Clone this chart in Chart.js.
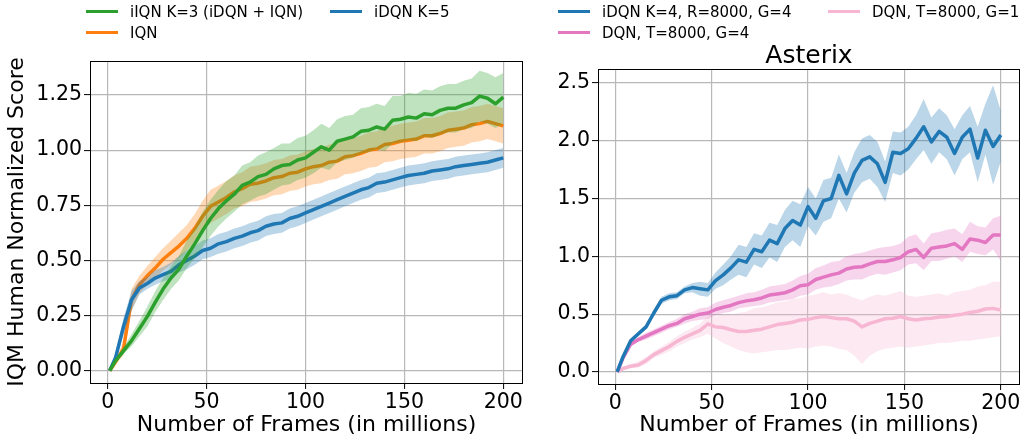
<!DOCTYPE html>
<html>
<head>
<meta charset="utf-8">
<script src="https://cdn.jsdelivr.net/npm/chart.js@4.4.0/dist/chart.umd.min.js"></script>
<style>
  body { margin: 0; background: #fff; width: 1024px; height: 440px; position: relative; overflow: hidden; font-family: 'DejaVu Sans', sans-serif; }
  canvas { position: absolute; top: 0; }
  .item { position: absolute; white-space: nowrap; font-size: 15px; line-height: 18px; color: #000; z-index: 2; }
  .swatch { display: inline-block; width: 32px; height: 3px; vertical-align: middle; margin-right: 12px; position: relative; top: -1px; }
</style>
</head>
<body>
<canvas id="leftChart" width="530" height="440" style="left:0"></canvas>
<canvas id="rightChart" width="494" height="440" style="left:530px"></canvas>
<script>
// frames (in millions), shared by every curve
const frames = [1, 4, 8, 12, 16, 20, 24, 28, 32, 36, 40, 44, 48, 52, 56, 60, 64, 68, 72, 76, 80, 84, 88, 92, 96, 100,
  104, 108, 112, 116, 120, 124, 128, 132, 136, 140, 144, 148, 152, 156, 160, 164, 168, 172, 176, 180, 184, 188, 192, 196, 200];

const xTicks = [0, 50, 100, 150, 200];
const xTickLabels = ['0', '50', '100', '150', '200'];
const leftYTicks = [0, 0.25, 0.5, 0.75, 1.0, 1.25];
const leftYTickLabels = ['0.00', '0.25', '0.50', '0.75', '1.00', '1.25'];
const rightYTicks = [0, 0.5, 1.0, 1.5, 2.0, 2.5];
const rightYTickLabels = ['0.0', '0.5', '1.0', '1.5', '2.0', '2.5'];

// left panel: IQM human normalized score
const leftNames = ['iIQN K=3 (iDQN + IQN)', 'IQN', 'iDQN K=5'];
const leftColors = ['#2ca02c', '#ff7f0e', '#1f77b4'];

const iiqnMean = [0.00, 0.045, 0.09, 0.135, 0.19, 0.245, 0.31, 0.37, 0.42, 0.46, 0.52, 0.575, 0.635, 0.69, 0.735, 0.77, 0.80, 0.84, 0.855, 0.88,
  0.89, 0.915, 0.93, 0.935, 0.955, 0.965, 0.99, 1.015, 1.00, 1.04, 1.05, 1.06, 1.085, 1.09, 1.105, 1.095, 1.135, 1.14, 1.15, 1.145,
  1.165, 1.16, 1.18, 1.19, 1.19, 1.205, 1.215, 1.245, 1.235, 1.21, 1.24];
const iiqnLow = [0.00, 0.035, 0.075, 0.11, 0.155, 0.20, 0.265, 0.32, 0.37, 0.41, 0.465, 0.51, 0.56, 0.61, 0.655, 0.69, 0.72, 0.755, 0.77, 0.79,
  0.80, 0.82, 0.84, 0.845, 0.865, 0.875, 0.895, 0.92, 0.91, 0.945, 0.955, 0.965, 0.985, 0.99, 1.005, 0.995, 1.03, 1.035, 1.045, 1.04,
  1.06, 1.055, 1.07, 1.08, 1.08, 1.095, 1.10, 1.13, 1.12, 1.10, 1.12];
const iiqnHigh = [0.00, 0.055, 0.105, 0.165, 0.225, 0.29, 0.36, 0.42, 0.475, 0.52, 0.59, 0.65, 0.72, 0.775, 0.82, 0.86, 0.885, 0.93, 0.945, 0.975,
  0.99, 1.01, 1.03, 1.03, 1.055, 1.065, 1.09, 1.12, 1.10, 1.14, 1.155, 1.16, 1.19, 1.195, 1.21, 1.20, 1.245, 1.245, 1.26, 1.255,
  1.275, 1.27, 1.29, 1.30, 1.30, 1.315, 1.325, 1.36, 1.35, 1.33, 1.35];

const iqnMean = [0.00, 0.04, 0.10, 0.32, 0.39, 0.43, 0.465, 0.505, 0.535, 0.565, 0.60, 0.645, 0.70, 0.745, 0.765, 0.785, 0.81, 0.825, 0.845, 0.85,
  0.86, 0.875, 0.88, 0.895, 0.90, 0.915, 0.925, 0.93, 0.945, 0.95, 0.97, 0.975, 0.985, 1.00, 1.005, 1.025, 1.03, 1.04, 1.045, 1.05,
  1.065, 1.065, 1.075, 1.09, 1.095, 1.10, 1.115, 1.12, 1.13, 1.12, 1.11];
const iqnLow = [0.00, 0.03, 0.07, 0.27, 0.35, 0.39, 0.42, 0.455, 0.48, 0.51, 0.545, 0.585, 0.635, 0.67, 0.69, 0.71, 0.735, 0.745, 0.765, 0.77,
  0.78, 0.795, 0.80, 0.815, 0.82, 0.835, 0.845, 0.85, 0.865, 0.87, 0.89, 0.895, 0.905, 0.92, 0.925, 0.945, 0.95, 0.96, 0.965, 0.97,
  0.985, 0.985, 0.995, 1.01, 1.015, 1.02, 1.035, 1.04, 1.05, 1.04, 1.03];
const iqnHigh = [0.00, 0.05, 0.13, 0.37, 0.43, 0.475, 0.515, 0.555, 0.59, 0.625, 0.66, 0.71, 0.77, 0.82, 0.84, 0.86, 0.885, 0.90, 0.925, 0.93,
  0.94, 0.955, 0.96, 0.975, 0.98, 0.995, 1.005, 1.01, 1.025, 1.03, 1.05, 1.055, 1.065, 1.08, 1.085, 1.105, 1.11, 1.12, 1.125, 1.13,
  1.145, 1.145, 1.155, 1.17, 1.175, 1.18, 1.195, 1.20, 1.21, 1.20, 1.19];

const idqn5Mean = [0.00, 0.06, 0.20, 0.32, 0.375, 0.395, 0.42, 0.435, 0.45, 0.48, 0.50, 0.52, 0.545, 0.555, 0.575, 0.585, 0.60, 0.61, 0.625, 0.635,
  0.655, 0.665, 0.67, 0.69, 0.70, 0.715, 0.73, 0.745, 0.76, 0.775, 0.79, 0.805, 0.82, 0.83, 0.85, 0.855, 0.865, 0.875, 0.885, 0.89,
  0.895, 0.905, 0.91, 0.915, 0.925, 0.93, 0.935, 0.94, 0.945, 0.955, 0.965];
const idqn5Low = [0.00, 0.04, 0.16, 0.27, 0.345, 0.37, 0.39, 0.405, 0.415, 0.445, 0.46, 0.48, 0.505, 0.515, 0.53, 0.54, 0.555, 0.565, 0.58, 0.59,
  0.61, 0.62, 0.625, 0.645, 0.655, 0.67, 0.685, 0.70, 0.715, 0.73, 0.745, 0.76, 0.775, 0.785, 0.805, 0.81, 0.82, 0.83, 0.84, 0.845,
  0.85, 0.86, 0.865, 0.87, 0.88, 0.885, 0.89, 0.895, 0.90, 0.91, 0.92];
const idqn5High = [0.00, 0.08, 0.24, 0.36, 0.405, 0.425, 0.455, 0.47, 0.49, 0.52, 0.545, 0.565, 0.59, 0.60, 0.62, 0.63, 0.645, 0.655, 0.67, 0.68,
  0.70, 0.71, 0.715, 0.735, 0.745, 0.76, 0.775, 0.79, 0.805, 0.82, 0.835, 0.85, 0.865, 0.875, 0.895, 0.90, 0.91, 0.92, 0.93, 0.935,
  0.94, 0.95, 0.955, 0.96, 0.97, 0.975, 0.98, 0.985, 0.99, 1.00, 1.01];

// right panel: Asterix
const rightNames = ['iDQN K=4, R=8000, G=4', 'DQN, T=8000, G=4', 'DQN, T=8000, G=1'];
const rightColors = ['#1f77b4', '#e377c2', '#f7b6d2'];

const idqn4Mean = [0.00, 0.13, 0.27, 0.33, 0.39, 0.51, 0.62, 0.65, 0.66, 0.71, 0.73, 0.72, 0.71, 0.79, 0.84, 0.90, 0.97, 0.95, 1.06, 1.04,
  1.14, 1.11, 1.24, 1.31, 1.27, 1.43, 1.33, 1.48, 1.50, 1.70, 1.54, 1.72, 1.83, 1.86, 1.80, 1.64, 1.90, 1.89, 1.93, 2.02,
  2.12, 1.99, 2.08, 2.03, 1.89, 2.03, 2.10, 1.85, 2.09, 1.95, 2.05];
const idqn4Low = [0.00, 0.11, 0.25, 0.31, 0.37, 0.48, 0.59, 0.62, 0.63, 0.68, 0.69, 0.66, 0.65, 0.72, 0.75, 0.80, 0.84, 0.82, 0.93, 0.90,
  0.99, 0.95, 1.08, 1.14, 1.08, 1.26, 1.18, 1.30, 1.33, 1.50, 1.38, 1.55, 1.64, 1.67, 1.60, 1.47, 1.72, 1.70, 1.75, 1.84,
  1.92, 1.80, 1.90, 1.84, 1.70, 1.84, 1.90, 1.64, 1.88, 1.62, 1.82];
const idqn4High = [0.00, 0.15, 0.29, 0.35, 0.41, 0.54, 0.65, 0.68, 0.69, 0.74, 0.77, 0.78, 0.77, 0.86, 0.93, 1.00, 1.10, 1.08, 1.20, 1.18,
  1.29, 1.27, 1.40, 1.48, 1.45, 1.60, 1.50, 1.66, 1.68, 1.88, 1.72, 1.90, 2.02, 2.05, 1.99, 1.82, 2.08, 2.07, 2.12, 2.22,
  2.36, 2.20, 2.28, 2.22, 2.10, 2.22, 2.30, 2.12, 2.32, 2.48, 2.26];

const dqnG4Mean = [0.00, 0.12, 0.24, 0.28, 0.31, 0.34, 0.37, 0.40, 0.42, 0.46, 0.48, 0.50, 0.51, 0.54, 0.56, 0.575, 0.60, 0.615, 0.625, 0.64,
  0.665, 0.675, 0.685, 0.71, 0.745, 0.755, 0.80, 0.82, 0.84, 0.855, 0.89, 0.905, 0.91, 0.935, 0.955, 0.955, 0.97, 0.99, 1.04, 1.06,
  0.99, 1.07, 1.08, 1.09, 1.11, 1.06, 1.15, 1.14, 1.12, 1.185, 1.185];
const dqnG4Low = [0.00, 0.10, 0.22, 0.26, 0.28, 0.31, 0.34, 0.37, 0.39, 0.42, 0.44, 0.45, 0.46, 0.49, 0.51, 0.52, 0.55, 0.56, 0.57, 0.58,
  0.60, 0.61, 0.62, 0.63, 0.66, 0.67, 0.71, 0.73, 0.74, 0.76, 0.79, 0.80, 0.80, 0.83, 0.85, 0.84, 0.86, 0.88, 0.93, 0.94,
  0.88, 0.96, 0.96, 0.98, 1.00, 0.95, 1.04, 1.02, 1.01, 1.06, 0.96];
const dqnG4High = [0.00, 0.14, 0.26, 0.30, 0.34, 0.37, 0.40, 0.43, 0.46, 0.50, 0.52, 0.55, 0.56, 0.60, 0.62, 0.64, 0.66, 0.68, 0.69, 0.71,
  0.74, 0.75, 0.76, 0.79, 0.83, 0.85, 0.90, 0.92, 0.95, 0.96, 1.00, 1.02, 1.03, 1.05, 1.07, 1.08, 1.09, 1.11, 1.17, 1.19,
  1.11, 1.20, 1.21, 1.23, 1.24, 1.19, 1.30, 1.26, 1.25, 1.33, 1.35];

const dqnG1Mean = [0.00, 0.03, 0.05, 0.06, 0.10, 0.15, 0.185, 0.22, 0.265, 0.30, 0.33, 0.36, 0.415, 0.39, 0.385, 0.365, 0.35, 0.35, 0.36, 0.37,
  0.39, 0.41, 0.42, 0.43, 0.45, 0.455, 0.47, 0.48, 0.47, 0.46, 0.46, 0.44, 0.39, 0.42, 0.44, 0.46, 0.465, 0.48, 0.46, 0.45,
  0.46, 0.465, 0.475, 0.48, 0.49, 0.50, 0.515, 0.525, 0.545, 0.55, 0.535];
const dqnG1Low = [0.00, 0.02, 0.03, 0.04, 0.07, 0.12, 0.15, 0.18, 0.22, 0.25, 0.28, 0.30, 0.33, 0.29, 0.25, 0.22, 0.19, 0.17, 0.16, 0.17,
  0.18, 0.19, 0.19, 0.20, 0.21, 0.20, 0.22, 0.23, 0.22, 0.20, 0.19, 0.14, 0.07, 0.14, 0.18, 0.20, 0.21, 0.22, 0.21, 0.22,
  0.23, 0.24, 0.25, 0.25, 0.26, 0.27, 0.27, 0.28, 0.29, 0.30, 0.31];
const dqnG1High = [0.00, 0.04, 0.07, 0.09, 0.13, 0.18, 0.22, 0.26, 0.31, 0.35, 0.38, 0.42, 0.48, 0.48, 0.50, 0.50, 0.51, 0.52, 0.55, 0.56,
  0.58, 0.60, 0.61, 0.63, 0.64, 0.66, 0.67, 0.69, 0.67, 0.68, 0.67, 0.64, 0.62, 0.65, 0.67, 0.66, 0.68, 0.70, 0.66, 0.65,
  0.66, 0.67, 0.68, 0.66, 0.69, 0.70, 0.71, 0.74, 0.75, 0.78, 0.78];

Chart.defaults.font.family = "'DejaVu Sans', sans-serif";
Chart.defaults.color = '#000';

function hexToRgba(hex, a) {
  const n = parseInt(hex.slice(1), 16);
  return `rgba(${(n >> 16) & 255}, ${(n >> 8) & 255}, ${n & 255}, ${a})`;
}

function toPoints(values) {
  return frames.map((f, i) => ({ x: f, y: values[i] }));
}

// series listed in drawing order (first = bottom)
function buildDatasets(series) {
  const datasets = [];
  series.forEach(s => {
    datasets.push({ data: toPoints(s.low), borderWidth: 0, pointRadius: 0, fill: false });
    datasets.push({ data: toPoints(s.high), borderWidth: 0, pointRadius: 0, fill: '-1', backgroundColor: hexToRgba(s.color, 0.3) });
    datasets.push({ data: toPoints(s.mean), borderColor: s.color, borderWidth: 3.5, pointRadius: 0, fill: false, borderJoinStyle: 'round' });
  });
  datasets.forEach((d, i) => { d.order = datasets.length - i; d.tension = 0; });
  return datasets;
}

const framePlugin = {
  id: 'frame',
  afterDraw(chart) {
    const { ctx, chartArea: a } = chart;
    ctx.save();
    ctx.strokeStyle = '#000';
    ctx.lineWidth = 1;
    ctx.strokeRect(Math.round(a.left) + 0.5, Math.round(a.top) + 0.5, Math.round(a.right - a.left) - 1, Math.round(a.bottom - a.top));
    ctx.restore();
  }
};

function makeTitlePlugin(text) {
  return {
    id: 'panelTitle',
    afterDraw(chart) {
      const { ctx, chartArea: a } = chart;
      ctx.save();
      ctx.font = "25px 'DejaVu Sans', sans-serif";
      ctx.fillStyle = '#000';
      ctx.textAlign = 'center';
      ctx.textBaseline = 'alphabetic';
      ctx.fillText(text, (a.left + a.right) / 2, a.top - 6);
      ctx.restore();
    }
  };
}

const gridStyle = { color: '#b8b8b8', lineWidth: 1.2, tickColor: '#000', tickLength: 6, tickWidth: 1, drawTicks: true };

function makeOptions(cfg) {
  return {
    responsive: false,
    animation: false,
    devicePixelRatio: 1,
    layout: { padding: cfg.padding },
    plugins: { legend: { display: false }, tooltip: { enabled: false } },
    scales: {
      x: {
        type: 'linear', min: -8.95, max: 209.95,
        afterBuildTicks: s => { s.ticks = xTicks.map(v => ({ value: v })); },
        afterFit: s => { s.height = cfg.xHeight; },
        ticks: { font: { size: 20.5 }, color: '#000', padding: 1, maxRotation: 0, autoSkip: false,
          callback: v => xTickLabels[xTicks.indexOf(v)] },
        grid: gridStyle,
        border: { display: false },
        title: { display: true, text: 'Number of Frames (in millions)', font: { size: 22 }, color: '#000', padding: { top: 0, bottom: 2 } }
      },
      y: {
        type: 'linear', min: cfg.yMin, max: cfg.yMax,
        afterBuildTicks: s => { s.ticks = cfg.yTicks.map(v => ({ value: v })); },
        afterFit: s => { s.width = cfg.yWidth; },
        ticks: { font: { size: 20.5 }, color: '#000', padding: 2, autoSkip: false,
          callback: v => cfg.yLabels[cfg.yTicks.indexOf(v)] },
        grid: gridStyle,
        border: { display: false },
        title: { display: !!cfg.yTitle, text: cfg.yTitle || '', font: { size: 22 }, color: '#000', padding: { top: 4, bottom: 0 } }
      }
    }
  };
}

new Chart(document.getElementById('leftChart'), {
  type: 'line',
  data: {
    datasets: buildDatasets([
      { mean: iqnMean, low: iqnLow, high: iqnHigh, color: leftColors[1] },
      { mean: idqn5Mean, low: idqn5Low, high: idqn5High, color: leftColors[2] },
      { mean: iiqnMean, low: iiqnLow, high: iiqnHigh, color: leftColors[0] }
    ])
  },
  options: makeOptions({
    padding: { left: 0, top: 61, right: 7, bottom: 0 },
    xHeight: 57, yWidth: 90, yMin: -0.056, yMax: 1.404,
    yTicks: leftYTicks, yLabels: leftYTickLabels, yTitle: 'IQM Human Normalized Score'
  }),
  plugins: [framePlugin]
});

new Chart(document.getElementById('rightChart'), {
  type: 'line',
  data: {
    datasets: buildDatasets([
      { mean: dqnG1Mean, low: dqnG1Low, high: dqnG1High, color: rightColors[2] },
      { mean: dqnG4Mean, low: dqnG4Low, high: dqnG4High, color: rightColors[1] },
      { mean: idqn4Mean, low: idqn4Low, high: idqn4High, color: rightColors[0] }
    ])
  },
  options: makeOptions({
    padding: { left: 0, top: 69, right: 4, bottom: 0 },
    xHeight: 56, yWidth: 68, yMin: -0.104, yMax: 2.62,
    yTicks: rightYTicks, yLabels: rightYTickLabels, yTitle: ''
  }),
  plugins: [framePlugin, makeTitlePlugin('Asterix')]
});

// legends: two columns, first column holds the first two entries
function addLegend(names, colors, slots) {
  names.forEach((name, i) => {
    const el = document.createElement('div');
    el.className = 'item';
    el.style.left = slots[i][0] + 'px';
    el.style.top = slots[i][1] + 'px';
    const sw = document.createElement('span');
    sw.className = 'swatch';
    sw.style.background = colors[i];
    el.appendChild(sw);
    el.appendChild(document.createTextNode(name));
    document.body.appendChild(el);
  });
}
addLegend(leftNames, leftColors, [[86, 3], [86, 24], [330, 3]]);
addLegend(rightNames, rightColors, [[558, 3], [558, 24], [828, 3]]);
</script>
</body>
</html>
